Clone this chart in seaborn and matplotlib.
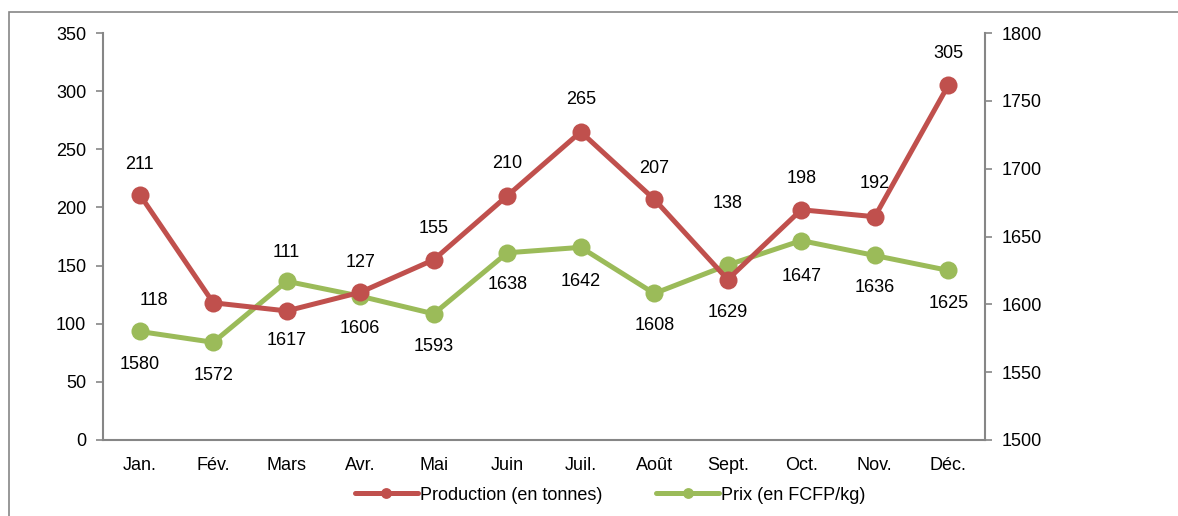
import matplotlib
matplotlib.use("Agg")
import matplotlib.pyplot as plt
import seaborn as sns
import pandas as pd
from matplotlib.patches import Rectangle

# Données
mois = ["Jan.", "Fév.", "Mars", "Avr.", "Mai", "Juin", "Juil.", "Août",
        "Sept.", "Oct.", "Nov.", "Déc."]
production = [211, 118, 111, 127, 155, 210, 265, 207, 138, 198, 192, 305]
prix = [1580, 1572, 1617, 1606, 1593, 1638, 1642, 1608, 1629, 1647, 1636, 1625]

# Décalage des étiquettes (pixels), ajusté à la main comme dans l'original
off_prod = [(0, 30), (-59, 2), (0, 58), (0, 30), (0, 31), (0, 32), (0, 32),
            (0, 31), (0, 76), (0, 31), (0, 33), (0, 32)]
off_prix = [(0, -33), (0, -33), (0, -59), (0, -32), (0, -33), (0, -32), (0, -34),
            (0, -32), (0, -48), (0, -36), (0, -32), (0, -33)]

sns.set_theme(style="white")
plt.rcParams['font.family'] = ['Liberation Sans', 'DejaVu Sans']
plt.rcParams['text.color'] = 'black'
plt.rcParams['xtick.labelcolor'] = 'black'
plt.rcParams['ytick.labelcolor'] = 'black'

ROUGE = "#C0504D"
VERT = "#9BBB59"
GRIS = "#868686"
FS = 13

df = pd.DataFrame({"mois": mois, "x": range(len(mois)),
                   "production": production, "prix": prix})

fig = plt.figure(figsize=(11.78, 5.16), dpi=100)
fig.patches.append(Rectangle((9 / 1178, -0.1), 1.2, 1.1 - 12 / 516, transform=fig.transFigure,
                             fill=False, edgecolor=GRIS, linewidth=1.2))
ax = fig.add_axes([103 / 1178, 76 / 516, 882 / 1178, 407 / 516])
ax2 = ax.twinx()

sns.lineplot(data=df, x="x", y="production", ax=ax, color=ROUGE, linewidth=3.6,
             marker="o", markersize=13, markeredgewidth=0, label="Production (en tonnes)",
             legend=False)
sns.lineplot(data=df, x="x", y="prix", ax=ax2, color=VERT, linewidth=3.6,
             marker="o", markersize=13, markeredgewidth=0, label="Prix (en FCFP/kg)",
             legend=False)

for i, v in enumerate(production):
    ax.annotate(str(v), (i, v), xytext=off_prod[i], textcoords="offset pixels",
                ha="center", va="center", fontsize=FS, color="black")
for i, v in enumerate(prix):
    ax2.annotate(str(v), (i, v), xytext=off_prix[i], textcoords="offset pixels",
                 ha="center", va="center", fontsize=FS, color="black")

ax.set_xlim(-0.5, 11.5)
ax.set_ylim(0, 350)
ax2.set_ylim(1500, 1800)
ax.set_yticks(range(0, 351, 50))
ax2.set_yticks(range(1500, 1801, 50))
ax.set_xticks(range(len(mois)))
ax.set_xticklabels(mois)
ax.set_xlabel("")
ax.set_ylabel("")
ax2.set_ylabel("")

for a in (ax, ax2):
    for s in a.spines.values():
        s.set_visible(False)
ax.spines["left"].set_visible(True)
ax.spines["bottom"].set_visible(True)
ax2.spines["right"].set_visible(True)
for s in (ax.spines["left"], ax.spines["bottom"], ax2.spines["right"]):
    s.set_color(GRIS)
    s.set_linewidth(1.5)

ax.tick_params(axis="y", which="both", left=True, length=5, width=1.2, color=GRIS,
               labelsize=FS, pad=7)
ax.tick_params(axis="x", bottom=False, labelsize=FS, pad=6)
ax2.tick_params(axis="y", right=True, length=5, width=1.2, color=GRIS,
                labelsize=FS, pad=7)
ax.set_zorder(ax2.get_zorder() + 1)
ax.patch.set_visible(False)

h1, l1 = ax.get_legend_handles_labels()
h2, l2 = ax2.get_legend_handles_labels()
fig.legend(h1 + h2, l1 + l2, loc="center", bbox_to_anchor=(610 / 1178, 1 - 495 / 516),
           ncol=2, frameon=False, fontsize=FS, handlelength=3.5, handletextpad=0.1,
           columnspacing=3, markerscale=0.6)

fig.savefig("out.png", dpi=100)
